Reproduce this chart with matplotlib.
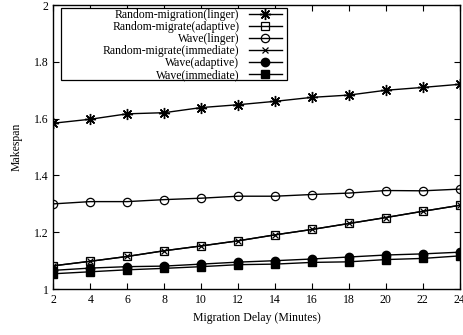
import matplotlib
matplotlib.use("Agg")
import matplotlib.pyplot as plt
from matplotlib.patches import Rectangle

plt.rcParams['font.family'] = ['Liberation Serif', 'DejaVu Serif']
plt.rcParams['font.size'] = 8.5

delay = [2, 4, 6, 8, 10, 12, 14, 16, 18, 20, 22, 24]

rand_linger = [1.584, 1.598, 1.617, 1.621, 1.639, 1.649, 1.661, 1.675, 1.683, 1.700, 1.710, 1.721]
rand_adaptive = [1.082, 1.098, 1.115, 1.135, 1.152, 1.170, 1.191, 1.210, 1.231, 1.252, 1.274, 1.295]
wave_linger = [1.300, 1.308, 1.308, 1.315, 1.320, 1.327, 1.327, 1.333, 1.338, 1.347, 1.346, 1.352]
rand_immediate = [1.082, 1.098, 1.115, 1.135, 1.152, 1.170, 1.191, 1.210, 1.231, 1.252, 1.274, 1.295]
wave_adaptive = [1.066, 1.074, 1.079, 1.081, 1.088, 1.095, 1.100, 1.106, 1.113, 1.120, 1.124, 1.130]
wave_immediate = [1.054, 1.061, 1.068, 1.073, 1.079, 1.086, 1.088, 1.094, 1.096, 1.104, 1.108, 1.117]

fig = plt.figure(figsize=(4.64, 3.35), dpi=100)
ax = fig.add_axes([0.115, 0.137, 0.876, 0.848])

lw = 1.0
ax.plot(delay, rand_linger, color='black', lw=lw, marker=(8, 2, 0), ms=8, mew=1.0,
        label='Random-migration(linger)')
ax.plot(delay, rand_adaptive, color='black', lw=lw, marker='s', ms=5.5, mfc='none', mew=0.9,
        label='Random-migrate(adaptive)')
ax.plot(delay, wave_linger, color='black', lw=lw, marker='o', ms=6, mfc='none', mew=0.9,
        label='Wave(linger)')
ax.plot(delay, rand_immediate, color='black', lw=lw, marker='x', ms=5, mew=0.9,
        label='Random-migrate(immediate)')
ax.plot(delay, wave_adaptive, color='black', lw=lw, marker='o', ms=6,
        label='Wave(adaptive)')
ax.plot(delay, wave_immediate, color='black', lw=lw, marker='s', ms=5.5,
        label='Wave(immediate)')

ax.set_xlim(2, 24)
ax.set_ylim(1, 2)
ax.set_xticks(range(2, 25, 2))
ax.set_yticks([1, 1.2, 1.4, 1.6, 1.8, 2])
ax.set_yticklabels(['1', '1.2', '1.4', '1.6', '1.8', '2'])
ax.tick_params(direction='in', top=True, right=True, length=4, width=0.8)
for s in ax.spines.values():
    s.set_linewidth(1.0)

ax.set_xlabel('Migration Delay (Minutes)', labelpad=4)
ax.set_ylabel('Makespan', labelpad=8)

# gnuplot-style key: right-aligned text, sample on the right, wide box
x0, y0 = 61 / 464, 1 - 80 / 335
x1, y1 = 287 / 464, 1 - 8 / 335
fig.patches.append(Rectangle((x0, y0), x1 - x0, y1 - y0, transform=fig.transFigure,
                             facecolor='white', edgecolor='black', lw=0.9, zorder=5))
leg = fig.legend(loc='upper right', bbox_to_anchor=(x1 - 3 / 464, y1 + 1 / 335),
                 markerfirst=False, frameon=False, handlelength=2.8,
                 borderpad=0.2, labelspacing=0.0, handletextpad=0.8, borderaxespad=0)
leg.set_zorder(6)
for t in leg.get_texts():
    t.set_ha('right')
leg._legend_box.align = 'right'

fig.savefig('out.png', dpi=100)
